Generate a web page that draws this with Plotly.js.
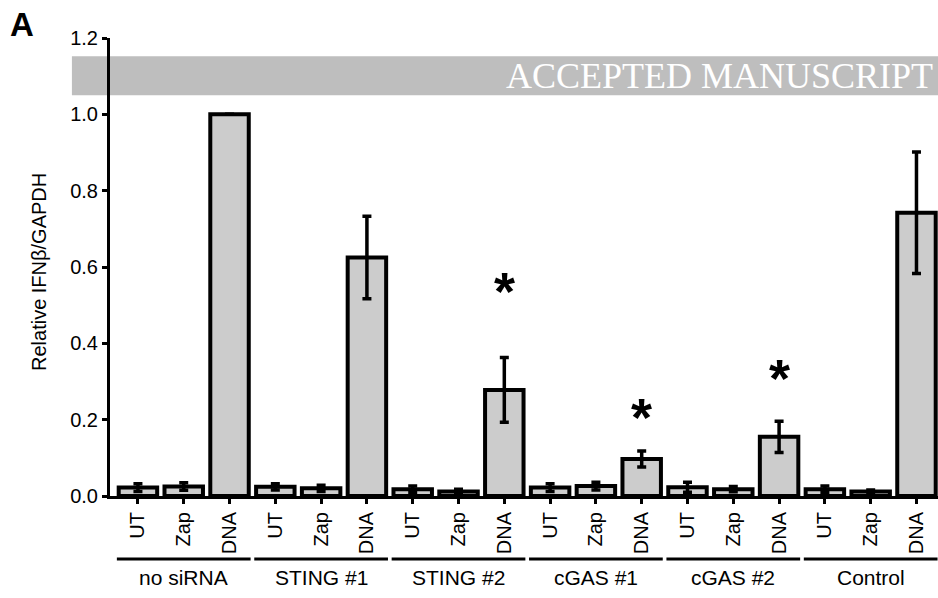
<!DOCTYPE html>
<html>
<head>
<meta charset="utf-8">
<script src="https://cdn.plot.ly/plotly-3.0.1.min.js"></script>
<style>html,body{margin:0;padding:0;background:#fff}#chart{width:938px;height:598px}</style>
</head>
<body>
<div id="chart"></div>
<script>
// ---- data ----
var groups = ["no siRNA", "STING #1", "STING #2", "cGAS #1", "cGAS #2", "Control"];
var treatments = ["UT", "Zap", "DNA"];
var means = [0.022, 0.025, 1.000,
             0.024, 0.020, 0.625,
             0.018, 0.012, 0.278,
             0.022, 0.026, 0.097,
             0.023, 0.018, 0.155,
             0.018, 0.012, 0.742];
var errors = [0.010, 0.010, 0.000,
              0.008, 0.008, 0.108,
              0.008, 0.006, 0.085,
              0.010, 0.010, 0.021,
              0.013, 0.007, 0.041,
              0.008, 0.004, 0.159];
var sigBars = [8, 11, 14];          // bars marked with *
var sigHeights = [0.5625, 0.234, 0.335];
var yTickVals = [0, 0.2, 0.4, 0.6, 0.8, 1.0, 1.2];
var yTickText = ["0.0", "0.2", "0.4", "0.6", "0.8", "1.0", "1.2"];

// ---- build ----
var xPos = [], tickText = [];
groups.forEach(function (g, gi) {
  treatments.forEach(function (t, ti) {
    xPos.push(gi * treatments.length + ti);
    tickText.push(t);
  });
});

var FONT = "Arial, 'Liberation Sans', Helvetica, sans-serif";

var bars = {
  type: "bar",
  x: xPos,
  y: means,
  width: 0.84,
  marker: { color: "#cccccc", line: { color: "#000000", width: 4 } },
  error_y: { type: "data", array: errors, visible: true, color: "#000000", thickness: 3.5, width: 4.5 },
  cliponaxis: false,
  hoverinfo: "skip"
};

var shapes = [];
var annotations = [];

// watermark banner
shapes.push({ type: "rect", xref: "paper", yref: "paper", layer: "below",
  x0: -0.046, x1: 1.0, y0: 1.05 / 1.2, y1: 1.152 / 1.2,
  fillcolor: "#bebebe", line: { width: 0 } });
annotations.push({ xref: "paper", yref: "paper", x: 0.996, y: 1.101 / 1.2,
  xanchor: "right", yanchor: "middle", showarrow: false,
  text: "ACCEPTED MANUSCRIPT",
  font: { family: "'Liberation Serif', 'Times New Roman', serif", size: 36, color: "#ffffff" } });

// group underlines and labels
groups.forEach(function (g, gi) {
  var start = gi * treatments.length;
  var end = start + treatments.length - 1;
  shapes.push({ type: "line", xref: "x", yref: "paper",
    x0: start - 0.46, x1: end + 0.46, y0: -0.1376, y1: -0.1376,
    line: { color: "#000000", width: 3 } });
  annotations.push({ xref: "x", yref: "paper", x: (start + end) / 2, y: -0.177,
    xanchor: "center", yanchor: "middle", showarrow: false, text: g,
    font: { family: FONT, size: 21, color: "#000000" } });
});

// significance stars
sigBars.forEach(function (b, i) {
  annotations.push({ xref: "x", yref: "y", x: xPos[b], y: sigHeights[i],
    xanchor: "center", yanchor: "middle", yshift: -10, showarrow: false, text: "<b>*</b>",
    font: { family: FONT, size: 54, color: "#000000" } });
});

// y axis title
annotations.push({ xref: "paper", yref: "paper", x: -0.0858, y: 0.489,
  xanchor: "center", yanchor: "middle", showarrow: false, textangle: -90,
  text: "Relative IFN\u03b2/GAPDH",
  font: { family: FONT, size: 20, color: "#000000" } });

// panel letter
annotations.push({ xref: "paper", yref: "paper", x: -0.106, y: 1.03,
  xanchor: "center", yanchor: "middle", showarrow: false, text: "<b>A</b>",
  font: { family: FONT, size: 33, color: "#000000" } });

var layout = {
  width: 938, height: 598,
  margin: { l: 110, r: 0, t: 38, b: 102 },
  paper_bgcolor: "#ffffff", plot_bgcolor: "rgba(0,0,0,0)",
  showlegend: false,
  bargap: 0,
  xaxis: {
    range: [-0.61, 17.47],
    tickmode: "array", tickvals: xPos, ticktext: tickText,
    tickangle: -90,
    ticks: "outside", ticklen: 5, tickwidth: 3, tickcolor: "#000000",
    showline: true, linecolor: "#000000", linewidth: 3,
    showgrid: false, zeroline: false,
    tickfont: { family: FONT, size: 20, color: "#000000" }
  },
  yaxis: {
    range: [0, 1.2],
    tickmode: "array", tickvals: yTickVals, ticktext: yTickText,
    ticks: "outside", ticklen: 5, tickwidth: 3, tickcolor: "#000000",
    showline: true, linecolor: "#000000", linewidth: 3,
    showgrid: false, zeroline: false,
    tickfont: { family: FONT, size: 20, color: "#000000" }
  },
  shapes: shapes,
  annotations: annotations
};

Plotly.newPlot("chart", [bars], layout, { displayModeBar: false, staticPlot: true });
</script>
</body>
</html>
